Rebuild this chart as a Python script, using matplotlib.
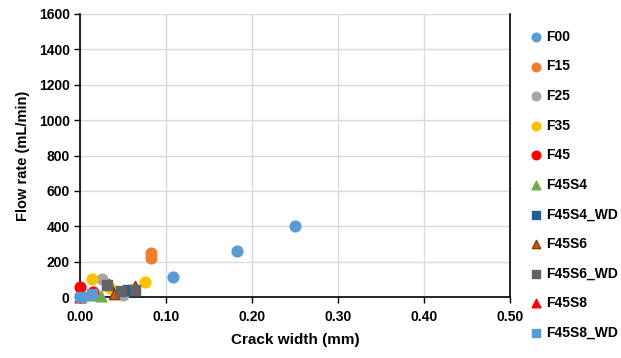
import numpy as np
import matplotlib
import matplotlib.pyplot as plt
matplotlib.use('Agg')

plt.rcParams['font.family'] = ['Liberation Sans', 'DejaVu Sans']
plt.rcParams['font.weight'] = 'bold'

# crack width (mm) / flow rate (mL/min) per series
f00_x = [0.0, 0.015, 0.108, 0.183, 0.250]
f00_y = [5, 20, 115, 262, 400]
f15_x = [0.082, 0.083]
f15_y = [220, 250]
f25_x = [0.026, 0.050]
f25_y = [100, 10]
f35_x = [0.014, 0.035, 0.076]
f35_y = [100, 50, 83]
f45_x = [0.0, 0.0155]
f45_y = [55, 30]
f45s4_x = [0.011, 0.024]
f45s4_y = [11, 8]
f45s4wd_x = [0.056, 0.060]
f45s4wd_y = [40, 40]
f45s6_x = [0.034, 0.039, 0.064]
f45s6_y = [77, 17, 62]
f45s6wd_x = [0.031, 0.048, 0.064]
f45s6wd_y = [68, 36, 40]
f45s8_x = [0.0]
f45s8_y = [0]
f45s8wd_x = [0.001, 0.014]
f45s8wd_y = [2, 20]

fig = plt.figure(figsize=(6.21, 3.58), dpi=100)
ax = fig.add_axes([0.129, 0.170, 0.692, 0.791])

series = [
    ('F00', f00_x, f00_y, 'o', '#5B9BD5', '#5B9BD5', 60),
    ('F15', f15_x, f15_y, 'o', '#ED7D31', '#ED7D31', 60),
    ('F25', f25_x, f25_y, 'o', '#A5A5A5', '#A5A5A5', 60),
    ('F35', f35_x, f35_y, 'o', '#FFC000', '#FFC000', 60),
    ('F45', f45_x, f45_y, 'o', '#FF0000', '#FF0000', 60),
    ('F45S4', f45s4_x, f45s4_y, '^', '#70AD47', '#70AD47', 60),
    ('F45S4_WD', f45s4wd_x, f45s4wd_y, 's', '#255E91', '#255E91', 45),
    ('F45S6', f45s6_x, f45s6_y, '^', '#C55A11', '#843C0C', 55),
    ('F45S6_WD', f45s6wd_x, f45s6wd_y, 's', '#636363', '#636363', 45),
    ('F45S8', f45s8_x, f45s8_y, '^', '#FF0000', '#FF0000', 60),
    ('F45S8_WD', f45s8wd_x, f45s8wd_y, 's', '#5B9BD5', '#5B9BD5', 45),
]

handles = []
for name, xs, ys, m, fc, ec, s in series:
    h = ax.scatter(xs, ys, marker=m, s=s, c=fc, edgecolors=ec,
                   linewidths=1, label=name, zorder=3, clip_on=False)
    handles.append(h)

ax.set_xlim(0, 0.5)
ax.set_ylim(0, 1600)
ax.set_xticks(np.arange(0, 0.51, 0.1))
ax.set_yticks(np.arange(0, 1601, 200))
ax.xaxis.set_major_formatter(matplotlib.ticker.FormatStrFormatter('%.2f'))
ax.grid(True, color='#D9D9D9', linewidth=1)
ax.set_axisbelow(True)
ax.spines['top'].set_visible(False)
for sp in ['left', 'bottom', 'right']:
    ax.spines[sp].set_color('black')
    ax.spines[sp].set_linewidth(1.2)
ax.tick_params(axis='both', direction='out', length=4, labelsize=10,
               colors='black', width=1)
ax.tick_params(axis='x', pad=5)
ax.set_xlabel('Crack width (mm)', fontsize=11, fontweight='bold', labelpad=7)
ax.set_ylabel('Flow rate (mL/min)', fontsize=10.5, fontweight='bold', labelpad=6)

fig.legend(handles=handles, loc='upper left', bbox_to_anchor=(0.840, 0.932),
           frameon=False, fontsize=10, labelspacing=1.12, handletextpad=0.15,
           handlelength=1.2, scatterpoints=1, borderaxespad=0, markerscale=0.8)

fig.savefig('out.png', dpi=100)
plt.close()
